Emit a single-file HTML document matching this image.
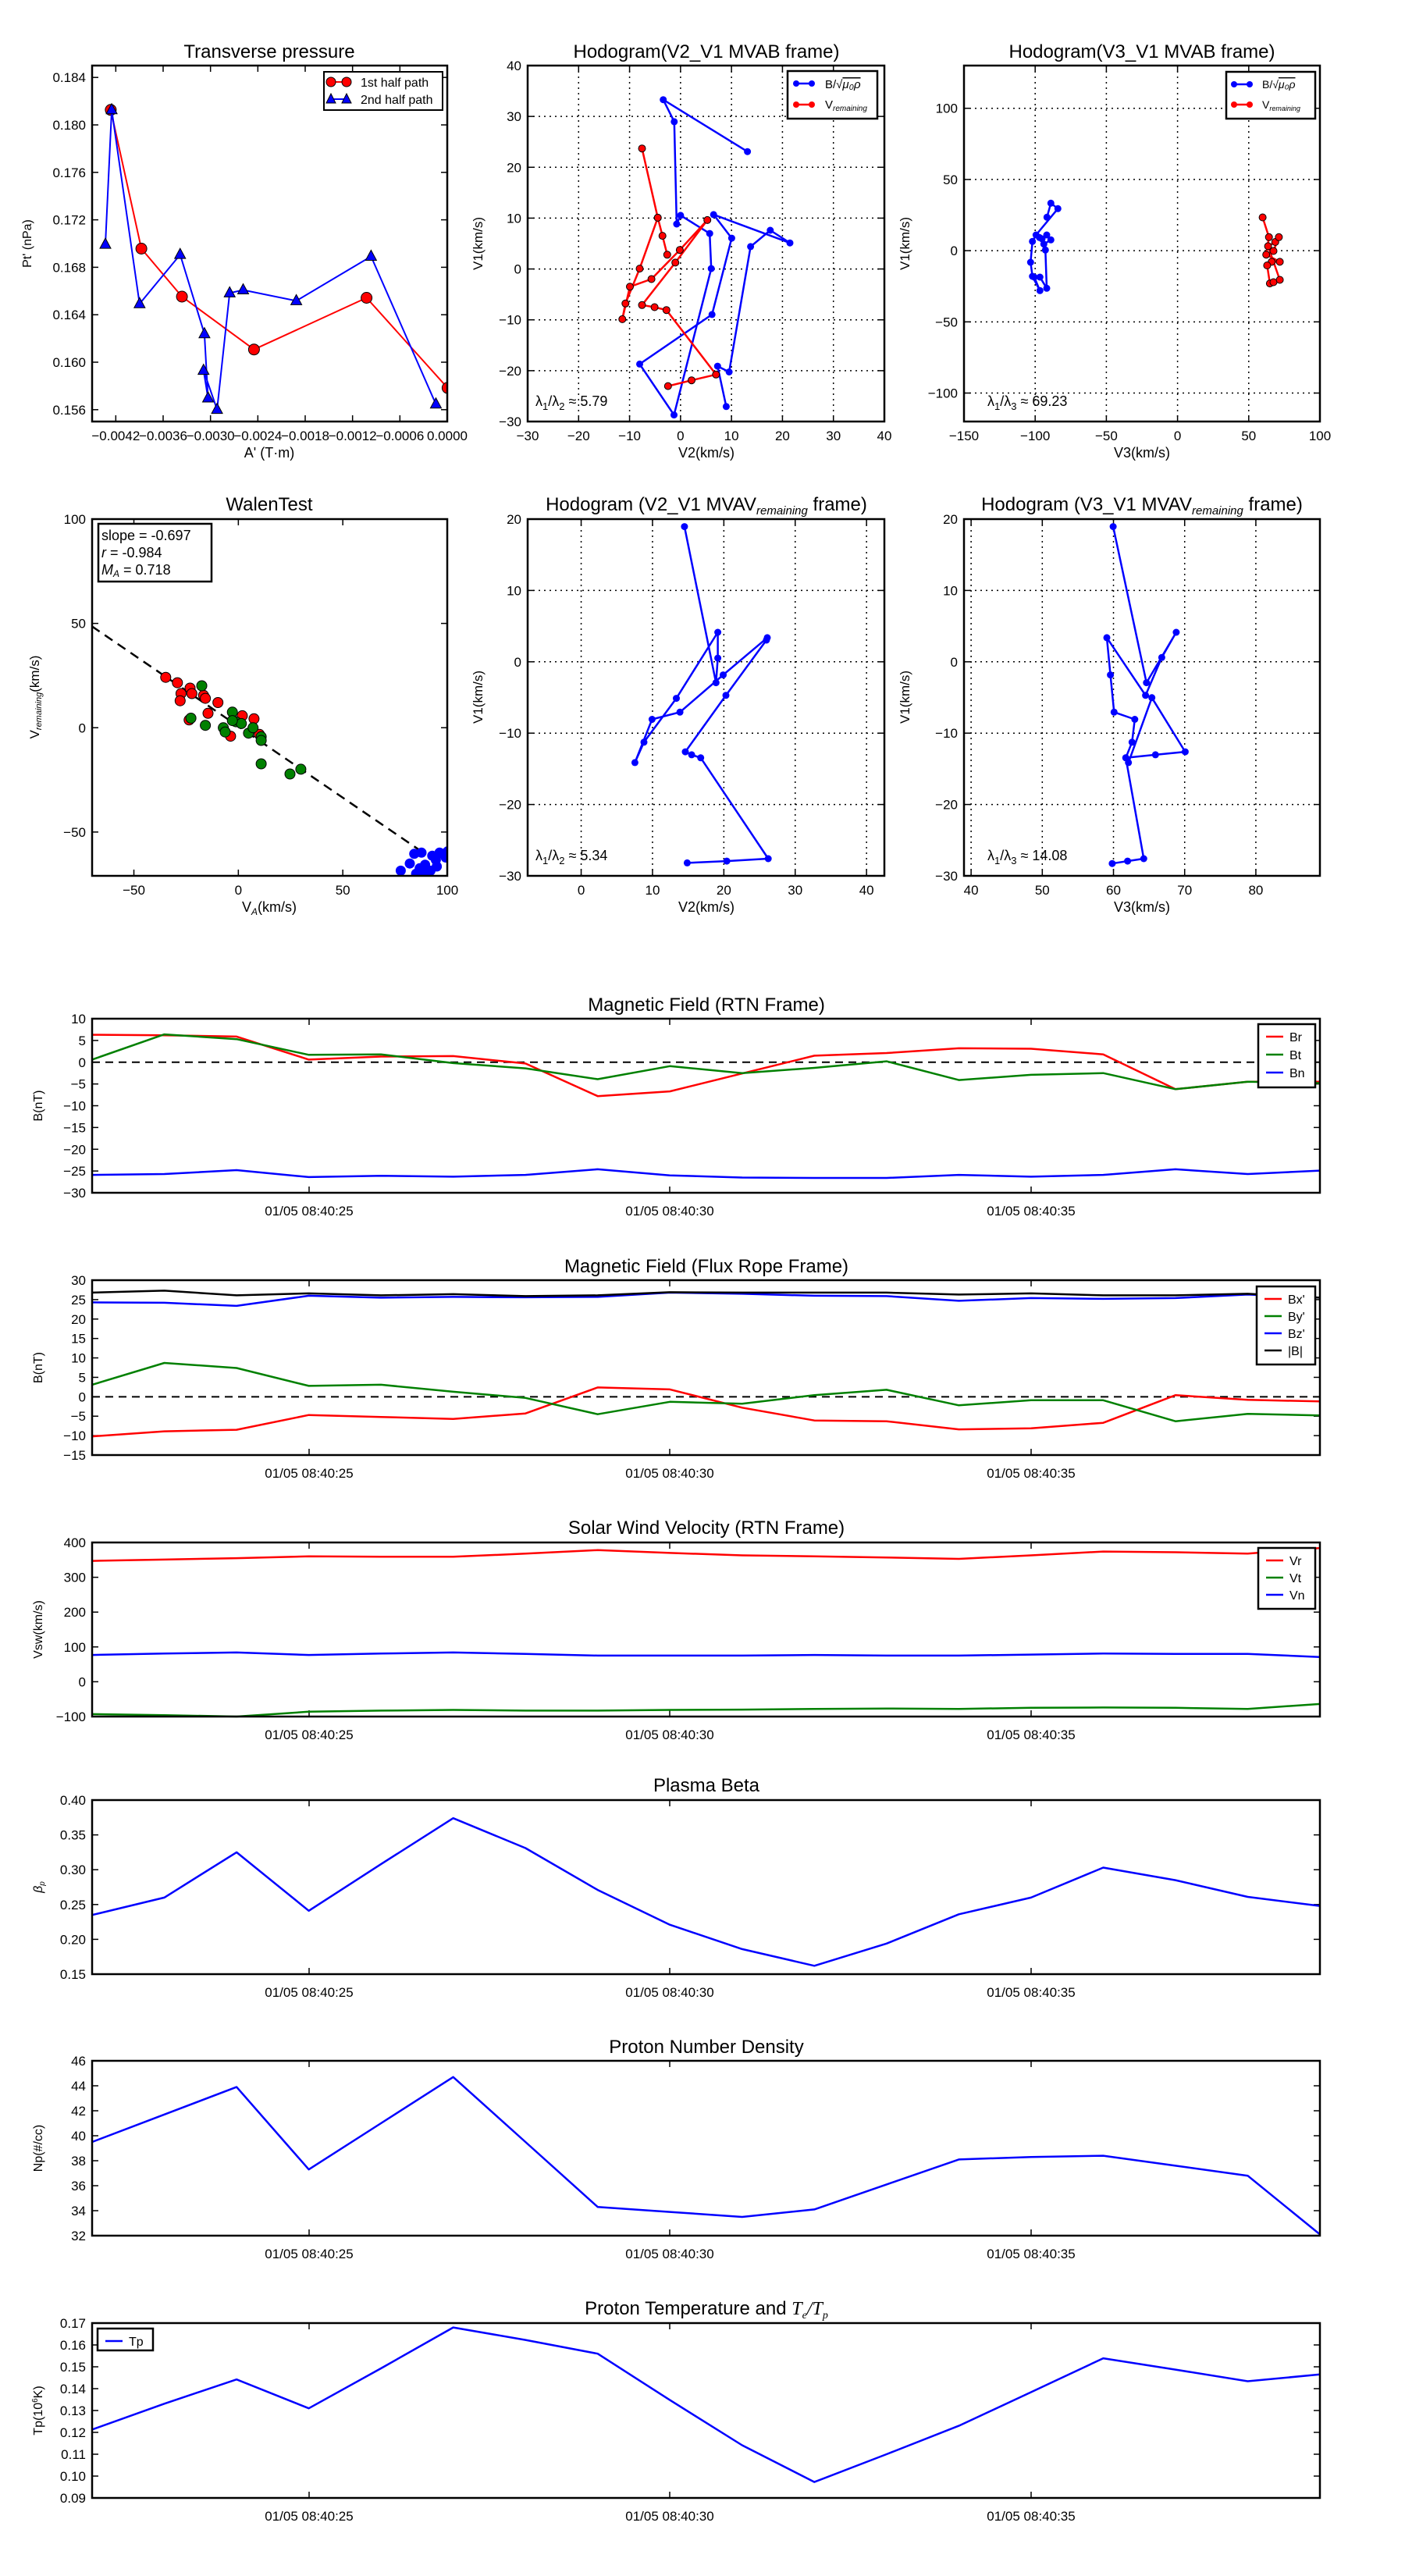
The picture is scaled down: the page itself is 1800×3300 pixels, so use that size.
<!DOCTYPE html>
<html><head><meta charset="utf-8"><style>
html,body{margin:0;padding:0;background:#fff}
svg{display:block}
text{font-family:"Liberation Sans","DejaVu Sans",sans-serif}
</style></head><body>
<svg id="s" xmlns="http://www.w3.org/2000/svg" width="1800" height="3300" viewBox="0 0 1800 3300"></svg>
<script>
const S=document.getElementById('s');let h='';
const Z=(a)=>a.map(p=>[p[0]/0.8667,p[1]/1.3]);
const Z4=(a)=>a.map(p=>[676+p[0]/2.976,84+p[1]/2.976]);
const Z5=(a)=>a.map(p=>[1235+p[0]/3,200+p[1]/3]);
function ax(o){o.X=v=>o.x0+(v-o.xmin)/(o.xmax-o.xmin)*(o.x1-o.x0);o.Y=v=>o.y1-(v-o.ymin)/(o.ymax-o.ymin)*(o.y1-o.y0);return o;}
function T(x,y,s,sz,anc,extra){h+=`<text x="${x}" y="${y}" font-size="${sz||16}" text-anchor="${anc||'middle'}" ${extra||''}>${s}</text>`;}
function ticks(o,xt,yt,grid){
 xt.forEach(t=>{const x=o.X(t[0]);
  if(grid)h+=`<line x1="${x}" y1="${o.y0}" x2="${x}" y2="${o.y1}" stroke="#000" stroke-width="1.5" stroke-dasharray="2,5"/>`;
  h+=`<line x1="${x}" y1="${o.y1}" x2="${x}" y2="${o.y1-8}" stroke="#000" stroke-width="1.5"/><line x1="${x}" y1="${o.y0}" x2="${x}" y2="${o.y0+8}" stroke="#000" stroke-width="1.5"/>`;
  T(x,o.y1+24,t[1],17);});
 yt.forEach(t=>{const y=o.Y(t[0]);
  if(grid)h+=`<line x1="${o.x0}" y1="${y}" x2="${o.x1}" y2="${y}" stroke="#000" stroke-width="1.5" stroke-dasharray="2,5"/>`;
  h+=`<line x1="${o.x0}" y1="${y}" x2="${o.x0+8}" y2="${y}" stroke="#000" stroke-width="1.5"/><line x1="${o.x1}" y1="${y}" x2="${o.x1-8}" y2="${y}" stroke="#000" stroke-width="1.5"/>`;
  T(o.x0-8,y+6,t[1],17,'end');});
}
function frame(o){h+=`<rect x="${o.x0}" y="${o.y0}" width="${o.x1-o.x0}" height="${o.y1-o.y0}" fill="none" stroke="#000" stroke-width="2.5"/>`;}
function pl(pts,c,w){h+=`<polyline points="${pts.map(p=>p[0].toFixed(1)+','+p[1].toFixed(1)).join(' ')}" fill="none" stroke="${c}" stroke-width="${w||2.5}" stroke-linejoin="round"/>`;}
function dots(pts,c,r){pts.forEach(p=>h+=`<circle cx="${p[0].toFixed(1)}" cy="${p[1].toFixed(1)}" r="${r}" fill="${c}" stroke="${c==='blue'?'#00f':'#000'}" stroke-width="${c==='blue'?0:1}"/>`);}
function rng(a,b,s){const r=[];for(let v=a;v<=b+1e-9;v+=s)r.push(v);return r;}
function clip(id,o){h+=`<clipPath id="${id}"><rect x="${o.x0}" y="${o.y0}" width="${o.x1-o.x0}" height="${o.y1-o.y0}"/></clipPath>`;}

/* ---------- Transverse pressure ---------- */
let o=ax({x0:118,x1:573,y0:84,y1:540,xmin:-0.0045,xmax:0,ymin:0.155,ymax:0.185});
clip('c1',o);
ticks(o,rng(-0.0042,0.00001,0.0006).map(v=>[v,(v<-1e-6?'\u2212':'')+Math.abs(v).toFixed(4)]),rng(0.156,0.1841,0.004).map(v=>[v,v.toFixed(3)]));
h+='<g clip-path="url(#c1)">';
let red=Z([[123,183],[157,414],[202,494],[282,582],[407,496],[497,646]]);
let blu=Z([[117,407],[124,183],[155,506],[200,424],[227,556],[231,663],[226,617],[241,682],[255,488],[270,483],[329,501],[412,427],[484,673]]);
pl(red,'red',2);dots(red,'red',7);
pl(blu,'blue',2);
blu.forEach(p=>h+=`<polygon points="${p[0]},${p[1]-8} ${p[0]-7},${p[1]+5} ${p[0]+7},${p[1]+5}" fill="blue" stroke="#000" stroke-width="1"/>`);
h+='</g>';frame(o);
T(345,74,'Transverse pressure',24);
T(345,586,"A' (T·m)",18);
T(40,312,"Pt' (nPa)",16,'middle','transform="rotate(-90 40 312)"');
h+=`<rect x="415" y="92" width="152" height="49" fill="#fff" stroke="#000" stroke-width="2"/>`;
h+=`<line x1="422" y1="105" x2="446" y2="105" stroke="red" stroke-width="2"/><circle cx="424" cy="105" r="6" fill="red" stroke="#000"/><circle cx="444" cy="105" r="6" fill="red" stroke="#000"/>`;
h+=`<line x1="422" y1="127" x2="446" y2="127" stroke="blue" stroke-width="2"/><polygon points="424,120 418,132 430,132" fill="blue" stroke="#000"/><polygon points="444,120 438,132 450,132" fill="blue" stroke="#000"/>`;
T(462,111,'1st half path',16,'start');T(462,133,'2nd half path',16,'start');

/* ---------- Hodogram V2_V1 MVAB ---------- */
o=ax({x0:676,x1:1133,y0:84,y1:540,xmin:-30,xmax:40,ymin:-30,ymax:40});
ticks(o,rng(-30,40,10).map(v=>[v,(v<0?'\u2212':'')+Math.abs(v)]),rng(-30,40,10).map(v=>[v,(v<0?'\u2212':'')+Math.abs(v)]),true);
let b2=Z4([[838,328],[517,130],[559,214],[568,604],[583,571],[694,640],[700,774],[558,1332],[427,1138],[703,949],[778,658],[709,568],[1000,676],[925,628],[850,690],[768,1168],[724,1146],[757,1300]]);
pl(b2,'blue');dots(b2,'blue',4.5);
let r2a=Z4([[436,316],[496,580],[514,649],[532,721]]);
let r2b=Z4([[496,580],[427,774],[373,907],[361,967],[390,843],[472,814],[580,703],[685,589],[563,751],[436,913],[484,921],[529,932],[718,1178],[625,1200],[535,1222]]);
pl(r2a,'red');pl(r2b,'red');dots(r2a,'red',4.5);dots(r2b,'red',4.5);
frame(o);
T(905,74,'Hodogram(V2_V1 MVAB frame)',24);
T(905,586,'V2(km/s)',18);
T(618,312,'V1(km/s)',17,'middle','transform="rotate(-90 618 312)"');
T(686,520,'λ<tspan font-size="13" dy="5">1</tspan><tspan dy="-5">/λ</tspan><tspan font-size="13" dy="5">2</tspan><tspan dy="-5"> ≈ 5.79</tspan>',18,'start');
h+=`<rect x="1009" y="91" width="115" height="61" fill="#fff" stroke="#000" stroke-width="2.5"/>`;
h+=`<line x1="1020" y1="107" x2="1040" y2="107" stroke="blue" stroke-width="2.5"/><circle cx="1020" cy="107" r="4" fill="blue"/><circle cx="1040" cy="107" r="4" fill="blue"/>`;
h+=`<line x1="1020" y1="134" x2="1040" y2="134" stroke="red" stroke-width="2.5"/><circle cx="1020" cy="134" r="4" fill="red"/><circle cx="1040" cy="134" r="4" fill="red"/>`;
T(1057,113,'B/√<tspan font-style="italic" text-decoration="overline">μ₀ρ</tspan>',15,'start');
T(1057,139,'V<tspan font-size="10" font-style="italic" dy="3">remaining</tspan>',15,'start');

/* ---------- Hodogram V3_V1 MVAB ---------- */
o=ax({x0:1235,x1:1691,y0:84,y1:540,xmin:-150,xmax:100,ymin:-120,ymax:130});
ticks(o,rng(-150,100,50).map(v=>[v,(v<0?'\u2212':'')+Math.abs(v)]),rng(-100,100,50).map(v=>[v,(v<0?'\u2212':'')+Math.abs(v)]),true);
let b3=Z5([[319,235],[334,181],[361,202],[277,303],[263,328],[256,408],[263,462],[292,517],[270,465],[292,465],[318,508],[313,361],[307,338],[334,322],[318,303],[300,318],[290,313]]);
pl(b3,'blue');dots(b3,'blue',4.5);
let r3=Z([[1402,362],[1409,395],[1406,424],[1421,436],[1412,436],[1407,442],[1410,472],[1414,470],[1421,466],[1408,410],[1416,403],[1420,395],[1414,418]]);
pl(r3,'red');dots(r3,'red',4.5);
frame(o);
T(1463,74,'Hodogram(V3_V1 MVAB frame)',24);
T(1463,586,'V3(km/s)',18);
T(1165,312,'V1(km/s)',17,'middle','transform="rotate(-90 1165 312)"');
T(1265,520,'λ<tspan font-size="13" dy="5">1</tspan><tspan dy="-5">/λ</tspan><tspan font-size="13" dy="5">3</tspan><tspan dy="-5"> ≈ 69.23</tspan>',18,'start');
h+=`<rect x="1571" y="92" width="114" height="60" fill="#fff" stroke="#000" stroke-width="2.5"/>`;
h+=`<line x1="1581" y1="108" x2="1601" y2="108" stroke="blue" stroke-width="2.5"/><circle cx="1581" cy="108" r="4" fill="blue"/><circle cx="1601" cy="108" r="4" fill="blue"/>`;
h+=`<line x1="1581" y1="134" x2="1601" y2="134" stroke="red" stroke-width="2.5"/><circle cx="1581" cy="134" r="4" fill="red"/><circle cx="1601" cy="134" r="4" fill="red"/>`;
T(1617,113,'B/√<tspan font-style="italic" text-decoration="overline">μ₀ρ</tspan>',14,'start');
T(1617,139,'V<tspan font-size="9" font-style="italic" dy="3">remaining</tspan>',14,'start');

/* ---------- Walen test ---------- */
o=ax({x0:118,x1:573,y0:665,y1:1122,xmin:-70,xmax:100,ymin:-71,ymax:100});
clip('c4',o);
ticks(o,[-50,0,50,100].map(v=>[v,(v<0?'\u2212':'')+Math.abs(v)]),[-50,0,50,100].map(v=>[v,(v<0?'\u2212':'')+Math.abs(v)]));
h+='<g clip-path="url(#c4)">';
let dl=Z([[102,1043],[470,1420]]);
h+=`<line x1="${dl[0][0]}" y1="${dl[0][1]}" x2="${dl[1][0]}" y2="${dl[1][1]}" stroke="#000" stroke-width="2.5" stroke-dasharray="12,8"/>`;
dots(Z([[184,1128],[197,1137],[201,1155],[200,1167],[211,1146],[213,1155],[226,1158],[228,1163],[231,1188],[242,1170],[210,1199],[256,1226],[269,1192],[282,1197],[288,1223]]),'red',6.5);
dots(Z([[224,1142],[212,1196],[228,1208],[258,1186],[248,1212],[250,1219],[262,1202],[268,1205],[276,1221],[281,1212],[290,1227],[290,1233],[290,1272],[322,1289],[334,1281],[258,1200]]),'green',6.5);
dots(Z([[445,1450],[455,1438],[460,1422],[468,1420],[466,1446],[472,1440],[480,1425],[484,1432],[488,1420],[492,1422],[495,1428],[478,1450],[470,1455],[485,1443],[497,1418],[462,1455]]),'blue',6.5);
h+='</g>';frame(o);
T(345,654,'WalenTest',24);
T(345,1168,'V<tspan font-size="12" font-style="italic" dy="4">A</tspan><tspan dy="-4">(km/s)</tspan>',18);
T(50,893,'V<tspan font-size="11" font-style="italic" dy="3">remaining</tspan><tspan dy="-3">(km/s)</tspan>',17,'middle','transform="rotate(-90 50 893)"');
h+=`<rect x="126" y="671" width="145" height="74" fill="#fff" stroke="#000" stroke-width="2.5"/>`;
T(130,692,'slope = -0.697',18,'start');T(130,714,'<tspan font-style="italic">r</tspan> = -0.984',18,'start');
T(130,736,'<tspan font-style="italic">M<tspan font-size="12" dy="3">A</tspan></tspan><tspan dy="-3"> = 0.718</tspan>',18,'start');

/* ---------- Hodogram V2_V1 MVAV ---------- */
o=ax({x0:676,x1:1133,y0:665,y1:1122,xmin:-7.5,xmax:42.5,ymin:-30,ymax:20});
ticks(o,rng(0,40,10).map(v=>[v,''+v]),rng(-30,20,10).map(v=>[v,(v<0?'\u2212':'')+Math.abs(v)]),true);
let b5=Z([[760,877],[795,1137],[797,1096],[797,1053],[751,1163],[715,1236],[705,1270],[724,1198],[755,1186],[803,1124],[852,1062],[851,1066],[806,1158],[761,1252],[768,1257],[778,1262],[853,1430],[807,1434],[763,1437]]);
pl(b5,'blue');dots(b5,'blue',4.5);frame(o);
T(905,654,'Hodogram (V2_V1 MVAV<tspan font-size="15" font-style="italic" dy="5">remaining</tspan><tspan dy="-5"> frame)</tspan>',24);
T(905,1168,'V2(km/s)',18);
T(618,893,'V1(km/s)',17,'middle','transform="rotate(-90 618 893)"');
T(686,1102,'λ<tspan font-size="13" dy="5">1</tspan><tspan dy="-5">/λ</tspan><tspan font-size="13" dy="5">2</tspan><tspan dy="-5"> ≈ 5.34</tspan>',18,'start');

/* ---------- Hodogram V3_V1 MVAV ---------- */
o=ax({x0:1235,x1:1691,y0:665,y1:1122,xmin:39,xmax:89,ymin:-30,ymax:20});
ticks(o,rng(40,80,10).map(v=>[v,''+v]),rng(-30,20,10).map(v=>[v,(v<0?'\u2212':'')+Math.abs(v)]),true);
let b6=Z([[1236,877],[1273,1137],[1306,1053],[1290,1095],[1272,1158],[1229,1062],[1233,1124],[1237,1186],[1260,1198],[1257,1236],[1250,1262],[1253,1270],[1279,1162],[1316,1252],[1283,1257],[1250,1262],[1270,1430],[1252,1434],[1235,1438]]);
pl(b6,'blue');dots(b6,'blue',4.5);frame(o);
T(1463,654,'Hodogram (V3_V1 MVAV<tspan font-size="15" font-style="italic" dy="5">remaining</tspan><tspan dy="-5"> frame)</tspan>',24);
T(1463,1168,'V3(km/s)',18);
T(1165,893,'V1(km/s)',17,'middle','transform="rotate(-90 1165 893)"');
T(1265,1102,'λ<tspan font-size="13" dy="5">1</tspan><tspan dy="-5">/λ</tspan><tspan font-size="13" dy="5">3</tspan><tspan dy="-5"> ≈ 14.08</tspan>',18,'start');

/* ---------- Time series ---------- */
const XT=[[396,'01/05 08:40:25'],[858,'01/05 08:40:30'],[1321,'01/05 08:40:35']];
function ts(y0,y1,ymin,ymax,ystep,dec,title,tb,ylab,series,zero){
 const o=ax({x0:118,x1:1691,y0:y0,y1:y1,xmin:0,xmax:17,ymin:ymin,ymax:ymax});
 XT.forEach(t=>{h+=`<line x1="${t[0]}" y1="${y1}" x2="${t[0]}" y2="${y1-8}" stroke="#000" stroke-width="1.5"/><line x1="${t[0]}" y1="${y0}" x2="${t[0]}" y2="${y0+8}" stroke="#000" stroke-width="1.5"/>`;T(t[0],y1+29,t[1],17);});
 rng(ymin,ymax,ystep).forEach(v=>{const y=o.Y(v);h+=`<line x1="118" y1="${y}" x2="126" y2="${y}" stroke="#000" stroke-width="1.5"/><line x1="1691" y1="${y}" x2="1683" y2="${y}" stroke="#000" stroke-width="1.5"/>`;
  T(110,y+6,(v<-1e-9?'\u2212':'')+Math.abs(v).toFixed(dec),17,'end');});
 if(zero)h+=`<line x1="118" y1="${o.Y(0)}" x2="1691" y2="${o.Y(0)}" stroke="#000" stroke-width="2" stroke-dasharray="10,7"/>`;
 series.forEach(s=>pl(s[1].map((v,i)=>[o.X(i),o.Y(v)]),s[0],2.5));
 frame(o);
 T(905,tb,title,24);
 T(54,(y0+y1)/2,ylab,16,'middle',`transform="rotate(-90 54 ${(y0+y1)/2})"`);
}
function leg(x,y,w,items,gap){h+=`<rect x="${x}" y="${y}" width="${w}" height="${items.length*gap+12}" fill="#fff" stroke="#000" stroke-width="2.5"/>`;
 items.forEach((it,i)=>{const yy=y+16+i*gap;h+=`<line x1="${x+10}" y1="${yy}" x2="${x+32}" y2="${yy}" stroke="${it[0]}" stroke-width="2.5"/>`;T(x+40,yy+6,it[1],16,'start');});}

ts(1305,1528,-30,10,5,0,'Magnetic Field (RTN Frame)',1295,'B(nT)',[
 ['red',[6.3,6.2,5.9,0.6,1.3,1.4,-0.3,-7.8,-6.7,-2.6,1.5,2.1,3.2,3.1,1.8,-6.2,-4.5,-4.5]],
 ['green',[0.6,6.4,5.3,1.7,1.8,-0.2,-1.4,-3.9,-0.9,-2.5,-1.3,0.2,-4.1,-2.9,-2.5,-6.2,-4.5,-4.8]],
 ['blue',[-25.9,-25.7,-24.8,-26.4,-26.1,-26.3,-25.9,-24.6,-26,-26.5,-26.6,-26.6,-25.9,-26.3,-25.9,-24.6,-25.7,-24.9]]],true);
leg(1612,1312,73,[['red','Br'],['green','Bt'],['blue','Bn']],23);

ts(1640,1864,-15,30,5,0,'Magnetic Field (Flux Rope Frame)',1630,'B(nT)',[
 ['red',[-10.2,-8.9,-8.5,-4.7,-5.2,-5.7,-4.3,2.4,1.9,-2.8,-6.1,-6.3,-8.4,-8.1,-6.7,0.4,-0.8,-1.2]],
 ['green',[3.1,8.7,7.4,2.8,3.1,1.3,-0.3,-4.5,-1.3,-1.8,0.4,1.8,-2.2,-0.9,-0.9,-6.3,-4.4,-4.8]],
 ['blue',[24.3,24.2,23.4,26,25.5,25.7,25.6,25.7,26.8,26.5,26,25.9,24.7,25.4,25.2,25.4,26.3,25.5]],
 ['black',[26.8,27.3,26.1,26.6,26.1,26.4,25.9,26.1,26.9,26.8,26.8,26.8,26.3,26.6,26.1,26.1,26.5,25.5]]],true);
leg(1610,1648,75,[['red',"Bx'"],['green',"By'"],['blue',"Bz'"],['black','|B|']],22);

ts(1976,2199,-100,400,100,0,'Solar Wind Velocity (RTN Frame)',1965,'Vsw(km/s)',[
 ['red',[347,351,355,360,359,359,368,378,370,363,360,357,353,363,374,372,368,384]],
 ['green',[-93,-96,-100,-86,-83,-81,-83,-83,-81,-80,-78,-77,-78,-75,-74,-75,-78,-64]],
 ['blue',[77,81,84,77,81,84,80,75,75,75,77,75,75,78,81,80,80,71]]],false);
leg(1612,1983,73,[['red','Vr'],['green','Vt'],['blue','Vn']],22);

ts(2306,2529,0.15,0.40,0.05,2,'Plasma Beta',2295,'<tspan font-style="italic">β<tspan font-size="10" dy="3">p</tspan></tspan>',[
 ['blue',[0.235,0.26,0.325,0.241,0.308,0.374,0.331,0.271,0.221,0.186,0.162,0.194,0.236,0.26,0.303,0.285,0.261,0.248]]],false);

ts(2640,2864,32,46,2,0,'Proton Number Density',2630,'Np(#/cc)',[
 ['blue',[39.5,41.7,43.9,37.3,41.0,44.7,39.5,34.3,33.9,33.5,34.1,36.1,38.1,38.3,38.4,37.6,36.8,32.1]]],false);

ts(2976,3200,0.09,0.17,0.01,2,'Proton Temperature and <tspan font-style="italic" font-family="Liberation Serif">T<tspan font-size="14" dy="5">e</tspan><tspan dy="-5">/T</tspan><tspan font-size="14" dy="5">p</tspan></tspan>',2965,'Tp(10<tspan font-size="10" dy="-6">6</tspan><tspan dy="6">K)</tspan>',[
 ['blue',[0.1213,0.1331,0.1442,0.131,0.1493,0.168,0.1623,0.156,0.1348,0.1141,0.0973,0.11,0.123,0.1384,0.1539,0.1487,0.1434,0.1465]]],false);
leg(125,2983,71,[['blue','Tp']],16);

S.innerHTML=h;
</script>
</body></html>
